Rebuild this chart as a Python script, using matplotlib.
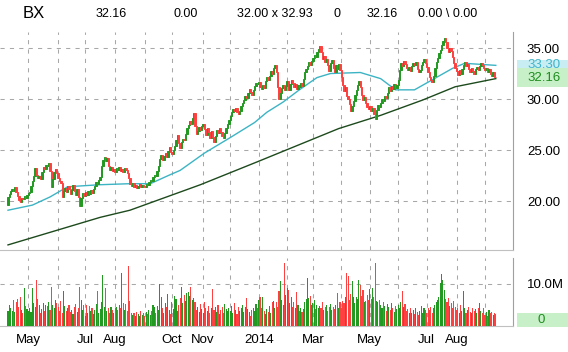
import numpy as np
import pandas as pd
import matplotlib
matplotlib.use("Agg")
import matplotlib.pyplot as plt
from matplotlib.patches import Rectangle
from matplotlib.transforms import blended_transform_factory

plt.rcParams['font.family'] = ['Liberation Sans', 'DejaVu Sans']

# NYSE holidays in the range shown
holidays = ['2013-05-27', '2013-07-04', '2013-09-02', '2013-11-28', '2013-12-25',
            '2014-01-01', '2014-01-20', '2014-02-17', '2014-04-18', '2014-05-26',
            '2014-07-04', '2014-09-01']

# daily closes, month by month
close_apr13 = [20.4, 20.7, 21.0, 21.2, 21.0, 21.4, 20.9, 20.5, 20.1, 19.9, 20.3, 20.2, 20.5, 20.3, 20.6]
close_may13 = [20.8, 20.9, 21.5, 22.0, 22.5, 23.2, 22.6, 22.3, 22.5, 22.2, 22.8, 23.3, 23.1, 23.5, 23.4,
               23.7, 22.9, 21.4, 22.2, 22.8, 23.1, 22.7]
close_jun13 = [22.3, 22.0, 21.8, 20.4, 21.0, 21.3, 20.9, 21.5, 21.2, 20.7, 21.1, 21.6, 21.0, 20.6, 21.2,
               20.4, 19.5, 20.3, 20.8, 20.5]
close_jul13 = [20.9, 20.6, 21.0, 20.7, 21.1, 20.8, 21.2, 21.5, 21.9, 21.7, 22.1, 22.4, 23.4, 24.0, 24.3,
               23.9, 24.2, 23.4, 23.0, 23.3, 22.9, 23.1]
close_aug13 = [22.8, 23.2, 23.0, 23.3, 22.9, 23.1, 22.8, 23.2, 23.0, 22.7, 22.3, 21.7, 21.5, 21.8, 21.4,
               21.6, 21.3, 21.5, 21.7, 21.4, 21.6, 21.5]
close_sep13 = [21.4, 21.7, 21.6, 21.9, 22.1, 22.0, 22.4, 22.6, 22.5, 22.9, 23.4, 24.1, 24.5, 24.0, 24.4,
               24.7, 24.3, 24.9, 25.3, 24.8]
close_oct13 = [24.6, 25.0, 25.4, 26.0, 26.5, 25.7, 25.2, 25.8, 26.1, 26.0, 26.6, 27.2, 27.5, 27.8, 27.6,
               28.1, 28.6, 27.4, 26.6, 26.9, 27.3, 27.0, 27.4]
close_nov13 = [27.6, 27.1, 26.5, 27.2, 26.8, 26.2, 26.9, 26.3, 25.8, 26.4, 27.0, 26.7, 27.2, 26.8, 26.4,
               26.2, 26.7, 27.2, 27.6, 27.9]
close_dec13 = [28.3, 28.7, 29.0, 28.8, 29.1, 28.7, 28.5, 28.8, 29.3, 29.6, 29.9, 30.3, 30.1, 30.6, 31.0,
               30.7, 30.4, 30.9, 31.3, 31.6, 31.5]
close_jan14 = [31.7, 31.2, 31.0, 31.4, 31.1, 31.8, 32.2, 31.9, 32.3, 32.7, 32.5, 33.0, 33.3, 32.6, 31.2,
               30.0, 30.6, 31.1, 31.4, 30.9, 31.3]
close_feb14 = [31.8, 30.9, 31.5, 31.9, 31.6, 31.2, 31.5, 31.0, 31.4, 31.2, 31.6, 31.3, 32.0, 32.6, 32.9,
               33.2, 33.6, 33.3, 33.7]
close_mar14 = [34.0, 34.3, 34.1, 34.6, 34.9, 35.2, 34.6, 33.9, 34.2, 33.6, 33.9, 33.3, 32.7, 33.5, 33.8,
               33.0, 32.6, 33.3, 32.9, 33.4, 32.8]
close_apr14 = [32.2, 31.4, 30.8, 31.2, 30.3, 30.0, 29.5, 28.8, 29.3, 29.8, 30.4, 30.9, 31.4, 31.8, 31.2,
               30.4, 29.9, 30.2, 29.6, 29.2, 29.0]
close_may14 = [29.3, 28.8, 29.1, 28.5, 28.0, 28.9, 29.4, 29.2, 29.6, 30.0, 29.8, 30.3, 30.1, 30.6, 31.2,
               30.8, 31.3, 31.0, 31.5, 31.1, 31.4]
close_jun14 = [31.9, 32.8, 33.5, 33.2, 33.7, 33.4, 33.0, 32.8, 33.1, 32.7, 33.2, 33.5, 33.3, 33.6, 32.9,
               32.6, 32.8, 33.3, 33.6, 33.9, 33.5]
close_jul14 = [33.1, 32.6, 32.2, 31.9, 31.7, 32.3, 33.0, 33.6, 34.0, 34.5, 34.8, 35.3, 35.7, 36.0, 35.6,
               35.0, 34.6, 35.0, 34.7, 34.1, 33.5, 33.0]
close_aug14 = [32.7, 32.4, 32.8, 32.5, 32.9, 33.3, 33.6, 33.2, 33.4, 32.9, 32.6, 33.0, 32.7, 32.5, 32.9,
               33.1, 32.8, 33.2, 33.5, 33.3, 33.0]
close_sep14 = [32.8, 33.0, 32.6, 32.9, 32.5, 32.3, 32.6, 32.2, 32.16]
first_open = 19.6

# daily volume in millions
vol_apr13 = [3.5, 5.0, 4.2, 3.6, 6.2, 3.4, 5.6, 6.5, 4.5, 7.0, 3.9, 3.2, 9.0, 4.8, 4.0]
vol_may13 = [3.6, 4.4, 3.3, 9.0, 5.5, 4.6, 11.0, 6.4, 5.0, 3.2, 4.0, 5.4, 3.6, 5.1, 4.8, 5.8, 3.9, 9.4,
             5.0, 4.2, 6.2, 5.5]
vol_jun13 = [4.5, 3.6, 6.0, 3.0, 8.4, 4.8, 3.5, 4.2, 5.0, 3.3, 3.8, 2.9, 4.6, 5.2, 3.4, 4.4, 9.3, 6.3,
             3.8, 4.9]
vol_jul13 = [2.5, 5.0, 3.2, 4.8, 3.6, 4.4, 2.8, 3.9, 5.2, 8.3, 3.0, 4.1, 5.6, 12.2, 4.5, 9.0, 3.6, 4.4,
             3.2, 4.6, 3.9, 3.1]
vol_aug13 = [4.2, 4.6, 3.9, 5.0, 4.4, 12.6, 5.5, 3.8, 5.2, 3.6, 14.2, 6.0, 3.2, 2.6, 3.0, 2.4, 3.3, 2.8,
             2.3, 3.5, 2.6, 3.1]
vol_sep13 = [2.4, 3.4, 2.9, 3.8, 2.7, 3.6, 5.0, 4.5, 3.1, 4.8, 3.7, 10.0, 6.8, 4.2, 3.0, 5.4, 4.6, 7.6,
             3.8, 2.8]
vol_oct13 = [5.6, 4.0, 7.2, 6.4, 3.6, 5.0, 6.6, 9.4, 5.4, 7.4, 6.0, 7.8, 8.2, 7.1, 9.4, 6.2, 6.6, 5.8,
             3.9, 4.6, 3.4, 5.2, 4.0]
vol_nov13 = [3.2, 5.6, 4.2, 3.6, 4.8, 3.0, 4.4, 8.7, 3.8, 4.6, 3.4, 5.0, 2.8, 3.9, 4.6, 3.2, 5.2, 4.0,
             3.6, 4.4]
vol_dec13 = [3.5, 4.8, 3.0, 5.4, 3.8, 2.9, 4.5, 3.6, 4.2, 5.0, 3.4, 4.6, 6.7, 4.0, 3.3, 2.5, 3.8, 4.4,
             3.6, 5.2, 4.2]
vol_jan14 = [6.2, 7.0, 4.4, 7.0, 3.6, 2.8, 4.0, 3.4, 4.8, 3.2, 5.6, 6.0, 4.2, 5.8, 4.6, 8.4, 10.6, 6.2,
             5.0, 15.0, 7.4]
vol_feb14 = [9.0, 8.6, 5.4, 6.8, 4.6, 5.8, 4.2, 8.0, 5.0, 3.6, 4.2, 3.4, 4.0, 5.6, 6.4, 11.4, 6.6, 7.2,
             5.0]
vol_mar14 = [5.4, 6.2, 4.0, 5.0, 4.4, 4.8, 4.2, 5.6, 3.8, 4.5, 5.0, 3.6, 4.6, 5.2, 3.8, 4.6, 4.0, 5.0,
             7.9, 4.4, 5.6]
vol_apr14 = [4.2, 6.0, 5.4, 7.0, 12.6, 12.0, 6.2, 7.6, 10.6, 6.8, 5.4, 7.0, 6.4, 11.0, 9.8, 7.2, 8.6,
             5.6, 6.0, 7.4, 6.2]
vol_may14 = [8.8, 6.4, 9.0, 7.0, 15.0, 6.0, 5.6, 6.2, 5.0, 4.2, 5.8, 4.8, 3.6, 5.2, 4.6, 3.9, 5.4, 4.2,
             3.4, 4.8, 4.0]
vol_jun14 = [5.0, 4.4, 5.8, 8.4, 4.6, 5.2, 3.6, 4.0, 3.2, 4.4, 3.0, 3.8, 2.8, 4.2, 3.4, 2.6, 3.6, 4.8,
             3.2, 4.2, 3.8]
vol_jul14 = [3.0, 4.4, 3.8, 4.6, 3.2, 4.4, 5.0, 5.6, 6.2, 7.0, 10.2, 12.4, 11.0, 8.6, 6.4, 5.8, 6.6, 4.8,
             5.4, 4.2, 6.0, 4.6]
vol_aug14 = [3.8, 4.4, 3.2, 5.0, 3.6, 8.4, 4.2, 3.0, 3.8, 4.6, 3.4, 3.0, 4.2, 3.6, 4.0, 3.2, 4.4, 5.4,
             3.6, 3.0, 4.4]
vol_sep14 = [2.6, 3.4, 2.4, 3.8, 3.0, 3.4, 2.6, 3.2, 2.8]

# moving averages, sampled along the curves (trading-day index, price)
ma50_day = [0, 18, 31, 44, 68, 90, 105, 120, 127, 145, 165, 182, 191, 203, 215, 228, 238, 260, 275,
            286, 300, 328, 337, 360]
ma50_val = [19.1, 19.6, 20.4, 21.4, 21.6, 21.7, 21.7, 22.6, 23.0, 24.7, 26.3, 27.7, 28.7, 29.7, 30.9,
            32.1, 32.5, 32.6, 32.0, 30.9, 30.9, 33.0, 33.5, 33.3]
ma200_day = [0, 68, 90, 142, 185, 244, 275, 306, 330, 360]
ma200_val = [15.7, 18.4, 19.1, 21.6, 23.9, 27.1, 28.4, 29.9, 31.2, 32.0]

header = [("BX", 23, 12), ("32.16", 96, 9), ("0.00", 174, 9), ("32.00 x 32.93", 237, 9),
          ("0", 334, 9), ("32.16", 367, 9), ("0.00 \\ 0.00", 418, 9)]

month_names = {(2013, 5): "May", (2013, 7): "Jul", (2013, 8): "Aug", (2013, 10): "Oct",
               (2013, 11): "Nov", (2014, 1): "2014", (2014, 3): "Mar", (2014, 5): "May",
               (2014, 7): "Jul", (2014, 8): "Aug"}

closes = (close_apr13 + close_may13 + close_jun13 + close_jul13 + close_aug13 + close_sep13
          + close_oct13 + close_nov13 + close_dec13 + close_jan14 + close_feb14 + close_mar14
          + close_apr14 + close_may14 + close_jun14 + close_jul14 + close_aug14 + close_sep14)
volumes = (vol_apr13 + vol_may13 + vol_jun13 + vol_jul13 + vol_aug13 + vol_sep13 + vol_oct13
           + vol_nov13 + vol_dec13 + vol_jan14 + vol_feb14 + vol_mar14 + vol_apr14 + vol_may14
           + vol_jun14 + vol_jul14 + vol_aug14 + vol_sep14)

dates = pd.bdate_range("2013-04-10", periods=len(closes), freq="C", holidays=holidays)
df = pd.DataFrame({"close": closes, "volume": volumes[:len(closes)]}, index=dates)
df["open"] = [first_open] + closes[:-1]
idx = np.arange(len(df))
up = (df["close"] >= df["open"]).values

GREEN = "#229a22"
RED = "#ff4040"
GRID = "#a8a8a8"
colors = np.where(up, GREEN, RED)

W, H = 568, 352
fig = plt.figure(figsize=(W / 100, H / 100), dpi=100)
ax = fig.add_axes([0, 1 - 250 / H, 513 / W, (250 - 32) / H])
axv = fig.add_axes([0, 1 - 326 / H, 513 / W, (326 - 258) / H])

# month gridlines / labels
month_start = [i for i in range(1, len(df)) if dates[i].month != dates[i - 1].month]
for a in (ax, axv):
    for i in month_start:
        a.axvline(i, color=GRID, lw=0.75, ls=(0, (4, 5)), zorder=0)
for y in (20, 25, 30, 35):
    ax.axhline(y, color=GRID, lw=0.75, ls=(0, (4, 5)), zorder=0)
axv.axhline(10, color=GRID, lw=0.75, ls=(0, (4, 5)), zorder=0)

# candles (bodies)
body = (df["close"] - df["open"]).values
ax.bar(idx, body, bottom=df["open"].values, width=1.0, color=colors, edgecolor=colors,
       linewidth=0.7, zorder=3)

ax.plot(ma50_day, ma50_val, color="#3cb4c4", lw=1.0, zorder=2)
ax.plot(ma200_day, ma200_val, color="#1d4a1d", lw=1.0, zorder=2)

axv.bar(idx, df["volume"].values, width=0.8, color=colors, linewidth=0, zorder=3)

xmin, xmax = -8 / 1.355, 505 / 1.355
for a in (ax, axv):
    a.set_xlim(xmin, xmax)
    a.set_facecolor("none")
    for s in ("left", "top"):
        a.spines[s].set_visible(False)
    a.spines["right"].set_color("#a0a0a0")
    a.spines["bottom"].set_color("#c0c0c0")
    a.yaxis.tick_right()
    a.tick_params(axis="y", length=0, pad=10, labelsize=9.5)
ax.set_ylim(15.2, 36.57)
axv.set_ylim(0, 68 / 4.2)

ax.set_yticks([20, 25, 30, 35])
ax.set_yticklabels([f"{v:.2f}" for v in (20, 25, 30, 35)])
ax.set_xticks([])
axv.set_yticks([10])
axv.set_yticklabels(["10.0M"])

lab_pos = [i for i in month_start if (dates[i].year, dates[i].month) in month_names]
axv.set_xticks(lab_pos)
axv.set_xticklabels([month_names[(dates[i].year, dates[i].month)] for i in lab_pos])
axv.tick_params(axis="x", length=0, pad=6, labelsize=9.5)

# last-value boxes on the right
tr = blended_transform_factory(fig.transFigure, ax.transData)
ax.add_patch(Rectangle((517 / W, 33.3 - 0.5), 51 / W, 1.05, transform=tr, clip_on=False,
                       facecolor="#c8eef4", edgecolor="none"))
ax.text(527 / W, 33.36, "33.30", transform=tr, color="#40b4c8", fontsize=9.5, va="center")
ax.add_patch(Rectangle((517 / W, 32.16 - 0.95), 51 / W, 1.8, transform=tr, clip_on=False,
                       facecolor="#c8f0c8", edgecolor="none"))
ax.text(527 / W, 32.1, f"{closes[-1]:.2f}", transform=tr, color="#1e8c1e", fontsize=9.5,
        va="center")

fig.patches.append(Rectangle((517 / W, 1 - 327 / H), 51 / W, 14 / H, transform=fig.transFigure,
                             facecolor="#c8f0c8", edgecolor="none"))
fig.text(541 / W, 1 - 320 / H, "0", color="#1e8c1e", fontsize=9.5, ha="center", va="center")

for txt, xp, fs in header:
    fig.text(xp / W, 1 - 14 / H, txt, fontsize=fs, va="center", ha="left")

fig.savefig("out.png", dpi=100)
